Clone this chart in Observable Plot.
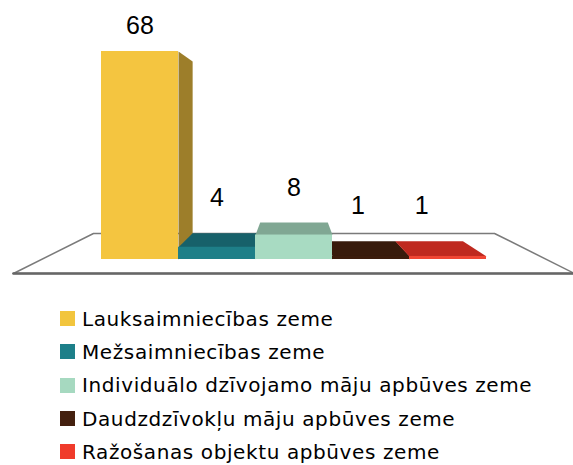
<!DOCTYPE html>
<html><head><meta charset="utf-8">
<script src="https://cdn.jsdelivr.net/npm/d3@7"></script>
<script src="https://cdn.jsdelivr.net/npm/@observablehq/plot@0.6"></script>
<style>
body{margin:0;background:#fff;font-family:"Liberation Sans",Arial,sans-serif}
#legend{margin-left:60px;padding-top:12px}
.row{display:flex;align-items:center;height:33.3px;font-family:"DejaVu Sans",sans-serif;font-size:20px;letter-spacing:0.6px;color:#000;white-space:nowrap}
.sw{width:15px;height:15px;margin-right:7px;flex:none}
</style></head><body><div id="chart"></div><div id="legend"></div>
<script>
// Data
const categories = ["Lauksaimniecības zeme", "Mežsaimniecības zeme", "Individuālo dzīvojamo māju apbūves zeme", "Daudzdzīvokļu māju apbūves zeme", "Ražošanas objektu apbūves zeme"];
const values = [68, 4, 8, 1, 1];

// Palette
const frontColors = ["#f4c540", "#1e7f88", "#a8dbc2", "#3b1c0c", "#f04634"];
const topColors = ["#c9a236", "#17616a", "#80a793", "#381b0c", "#bf291f"];
const sideColors = ["#9d7e2a", "#145a62", "#78a08c", "#301608", "#a82219"];
const legendColors = ["#f2c53d", "#1d7f89", "#a6d9c0", "#44200f", "#f03b2b"];

// Simple perspective (works in data space because both scales are linear)
const VX = 2.5, VY = 41.3, DEPTH = 0.8776;
const FLOOR_FRONT = 1.111, FLOOR_BACK = 0.794, FLOOR_PAD = 0.78;
const proj = (x, y, s) => ({x: VX + s * (x - VX), y: VY + s * (y - VY)});

const bars = categories.map((c, i) => ({c, i, v: values[i], x1: i, x2: i + 1}));
const sides = [], tops = [];
bars.forEach(b => {
  if (b.x2 < VX) {
    [[b.x2, 0, 1], [b.x2, b.v, 1], [b.x2, b.v, DEPTH], [b.x2, 0, DEPTH]]
      .forEach(p => sides.push({id: "s" + b.i, fill: sideColors[b.i], ...proj(...p)}));
  }
  if (b.x1 > VX) {
    [[b.x1, 0, 1], [b.x1, b.v, 1], [b.x1, b.v, DEPTH], [b.x1, 0, DEPTH]]
      .forEach(p => sides.push({id: "l" + b.i, fill: sideColors[b.i], ...proj(...p)}));
  }
  if (b.v < VY) {
    [[b.x1, b.v, 1], [b.x2, b.v, 1], [b.x2, b.v, DEPTH], [b.x1, b.v, DEPTH]]
      .forEach(p => tops.push({id: "t" + b.i, fill: topColors[b.i], ...proj(...p)}));
  }
});
const n = categories.length;
const floor = [[-FLOOR_PAD, 0, FLOOR_FRONT], [n + FLOOR_PAD, 0, FLOOR_FRONT], [n + FLOOR_PAD, 0, FLOOR_BACK], [-FLOOR_PAD, 0, FLOOR_BACK]]
  .map(p => proj(...p));
const floorFront = [floor[0], floor[1]];

const labels = bars.map(b => {
  const cx = b.i + 0.5;
  return {text: String(b.v), x: cx > VX ? VX + 0.83 * (cx - VX) : cx, y: proj(cx, b.v, DEPTH).y};
});

const chart = Plot.plot({
  width: 573, height: 290,
  marginLeft: 101, marginRight: 87, marginTop: 51, marginBottom: 31,
  x: {domain: [0, n], axis: null},
  y: {domain: [0, 68], axis: null},
  color: {type: "identity"},
  style: {background: "#fff", overflow: "visible"},
  marks: [
    Plot.line(floor, {x: "x", y: "y", curve: "linear-closed", fill: "#fff", stroke: "#7a7a7a", strokeWidth: 1.5}),
    Plot.line(floorFront, {x: "x", y: "y", stroke: "#666", strokeWidth: 2.5}),
    Plot.line(sides, {x: "x", y: "y", z: "id", fill: "fill", stroke: "none", curve: "linear-closed"}),
    Plot.line(tops, {x: "x", y: "y", z: "id", fill: "fill", stroke: "none", curve: "linear-closed"}),
    Plot.rect(bars, {x1: "x1", x2: "x2", y1: () => 0, y2: "v", fill: d => frontColors[d.i]}),
    Plot.text(labels, {x: "x", y: "y", text: "text", fontSize: 25, dy: -35, fill: "#000", fontFamily: "Liberation Sans, Arial, sans-serif"})
  ]
});
document.getElementById("chart").appendChild(chart);

const legend = document.getElementById("legend");
categories.forEach((c, i) => {
  const row = document.createElement("div");
  row.className = "row";
  const sw = document.createElement("span");
  sw.className = "sw";
  sw.style.background = legendColors[i];
  const t = document.createElement("span");
  t.textContent = c;
  row.appendChild(sw); row.appendChild(t);
  legend.appendChild(row);
});
</script></body></html>
